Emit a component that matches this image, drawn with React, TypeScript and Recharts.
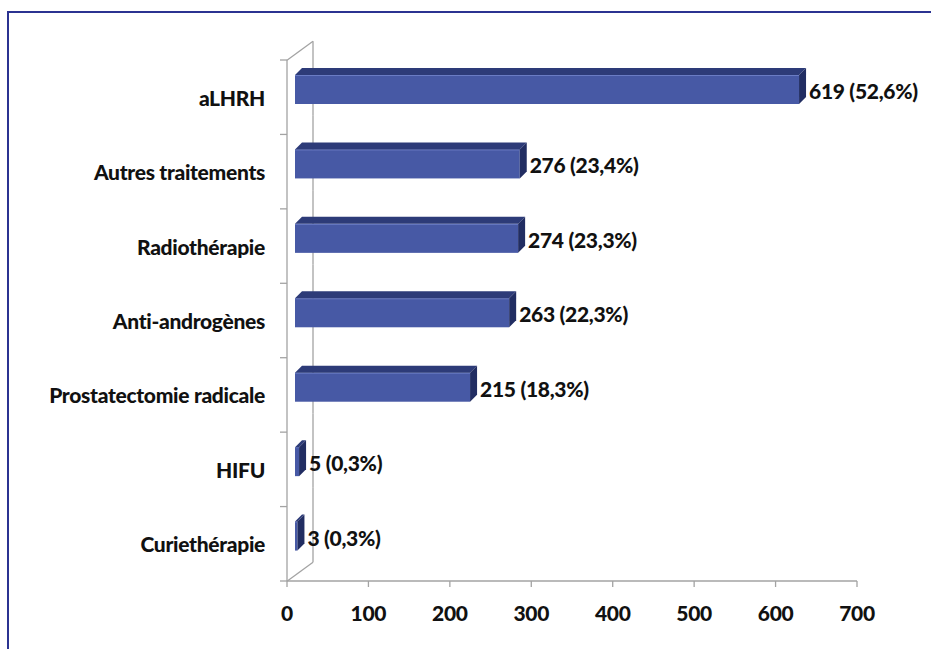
import React from "react";
import { BarChart, Bar, XAxis, YAxis, LabelList } from "recharts";

// Treatment categories, top to bottom
const CATEGORIES = [
  "aLHRH",
  "Autres traitements",
  "Radiothérapie",
  "Anti-androgènes",
  "Prostatectomie radicale",
  "HIFU",
  "Curiethérapie",
];
// Number of patients per treatment
const COUNTS = [619, 276, 274, 263, 215, 5, 3];
// Share of patients, as printed (French decimal comma)
const PERCENTS = ["52,6", "23,4", "23,3", "22,3", "18,3", "0,3", "0,3"];
// Value axis ticks
const X_TICKS = [0, 100, 200, 300, 400, 500, 600, 700];

const data = CATEGORIES.map((name, i) => ({
  name,
  value: COUNTS[i],
  label: `${COUNTS[i]} (${PERCENTS[i]}%)`,
}));

// Chart geometry
const W = 931;
const H = 649;
const MARGIN = { top: 60, right: 74, bottom: 28, left: 0 };
const Y_AXIS_W = 287;
const X_AXIS_H = 40;
const PLOT_LEFT = MARGIN.left + Y_AXIS_W;
const PLOT_TOP = MARGIN.top;
const PLOT_H = H - MARGIN.top - MARGIN.bottom - X_AXIS_H;
const BAND = PLOT_H / CATEGORIES.length;

// 3D look: bars sit a little behind the front floor edge, wall is deeper
const BAR_SHIFT_X = 8;
const BAR_SHIFT_Y = -8;
const DEPTH_X = 7;
const DEPTH_Y = 7;
const WALL_DX = 26;
const WALL_DY = 19;

const FONT = "Lato, 'Open Sans', 'Noto Sans', sans-serif";
const AXIS_GREY = "#a3a3a3";
const FRONT = "#4759a5";
const TOP = "#2d3b78";
const SIDE = "#212d62";

const Bar3D = (props: any) => {
  const { x, y, width, height } = props;
  if (x == null || y == null) return null;
  const fx = x + BAR_SHIFT_X;
  const fy = y + BAR_SHIFT_Y;
  const w = Math.max(width, 0);
  const h = height;
  const top = `${fx},${fy} ${fx + DEPTH_X},${fy - DEPTH_Y} ${fx + w + DEPTH_X},${fy - DEPTH_Y} ${fx + w},${fy}`;
  const side = `${fx + w},${fy} ${fx + w + DEPTH_X},${fy - DEPTH_Y} ${fx + w + DEPTH_X},${fy + h - DEPTH_Y} ${fx + w},${fy + h}`;
  return (
    <g>
      <rect x={fx} y={fy} width={w} height={h} fill={FRONT} />
      <line x1={fx} y1={fy + 0.5} x2={fx + w} y2={fy + 0.5} stroke="#6a7cc4" strokeWidth={1} />
      <polygon points={top} fill={TOP} />
      <polygon points={side} fill={SIDE} />
    </g>
  );
};

// Left wall of the 3D box, drawn band by band beneath the bars
const WallPiece = (props: any) => {
  const { y, height } = props;
  if (y == null) return null;
  const cy = y + height / 2;
  const idx = Math.round((cy - PLOT_TOP - BAND / 2) / BAND);
  const t = cy - BAND / 2;
  const b = cy + BAND / 2;
  const bx = PLOT_LEFT + WALL_DX;
  return (
    <g stroke={AXIS_GREY} strokeWidth={1.3} fill="none">
      <line x1={bx} y1={t - WALL_DY} x2={bx} y2={b - WALL_DY} />
      {idx === 0 && <line x1={PLOT_LEFT} y1={t} x2={bx} y2={t - WALL_DY} />}
      {idx === CATEGORIES.length - 1 && <line x1={PLOT_LEFT} y1={b} x2={bx} y2={b - WALL_DY} />}
    </g>
  );
};

const CategoryTick = (props: any) => {
  const { y, payload } = props;
  const idx = CATEGORIES.indexOf(payload.value);
  const t = y - BAND / 2;
  const b = y + BAND / 2;
  return (
    <g>
      <line x1={PLOT_LEFT - 7} y1={t} x2={PLOT_LEFT} y2={t} stroke={AXIS_GREY} strokeWidth={1.3} />
      {idx === CATEGORIES.length - 1 && (
        <line x1={PLOT_LEFT - 7} y1={b} x2={PLOT_LEFT} y2={b} stroke={AXIS_GREY} strokeWidth={1.3} />
      )}
      <text
        x={PLOT_LEFT - 22}
        y={y}
        textAnchor="end"
        dominantBaseline="central"
        fontFamily={FONT}
        fontWeight={900}
        fontSize={21}
        letterSpacing={-0.3}
        fill="#111"
      >
        {payload.value}
      </text>
    </g>
  );
};

const ValueTick = (props: any) => {
  const { x, y, payload } = props;
  return (
    <text
      x={x}
      y={y}
      textAnchor="middle"
      dominantBaseline="central"
      fontFamily={FONT}
      fontWeight={900}
      fontSize={21}
      letterSpacing={-0.3}
      fill="#111"
    >
      {payload.value}
    </text>
  );
};

const ValueLabel = (props: any) => {
  const vb = props.viewBox || props;
  const { x, y, width, height } = vb;
  if (x == null) return null;
  return (
    <text
      x={x + width + BAR_SHIFT_X + 10}
      y={y + BAR_SHIFT_Y + height / 2 + 1}
      textAnchor="start"
      dominantBaseline="central"
      fontFamily={FONT}
      fontWeight={900}
      fontSize={21}
      letterSpacing={-0.3}
      fill="#111"
    >
      {props.value}
    </text>
  );
};

export default function App() {
  return (
    <div
      style={{
        position: "fixed",
        left: 0,
        top: 0,
        width: W,
        height: H,
        overflow: "hidden",
        background: "#fff",
        fontFamily: FONT,
      }}
    >
      <div
        style={{
          position: "absolute",
          left: 7,
          top: 11,
          width: 2000,
          height: 2000,
          border: "2px solid #2b3391",
        }}
      />
      <div style={{ position: "absolute", left: 0, top: 0 }}>
        <BarChart width={W} height={H} data={data} layout="vertical" margin={MARGIN}>
          <XAxis
            type="number"
            domain={[0, 700]}
            ticks={X_TICKS}
            interval={0}
            height={X_AXIS_H}
            axisLine={{ stroke: AXIS_GREY, strokeWidth: 1.3 }}
            tickLine={{ stroke: AXIS_GREY, strokeWidth: 1.3 }}
            tickSize={6}
            tickMargin={25}
            tick={<ValueTick />}
          />
          <YAxis
            type="category"
            dataKey="name"
            width={Y_AXIS_W}
            interval={0}
            axisLine={{ stroke: AXIS_GREY, strokeWidth: 1.3 }}
            tickLine={false}
            tick={<CategoryTick />}
          />
          <Bar
            dataKey="value"
            barSize={29}
            shape={<Bar3D />}
            background={(p: any) => <WallPiece {...p} />}
            isAnimationActive={false}
          >
            <LabelList dataKey="label" content={<ValueLabel />} />
          </Bar>
        </BarChart>
      </div>
    </div>
  );
}
